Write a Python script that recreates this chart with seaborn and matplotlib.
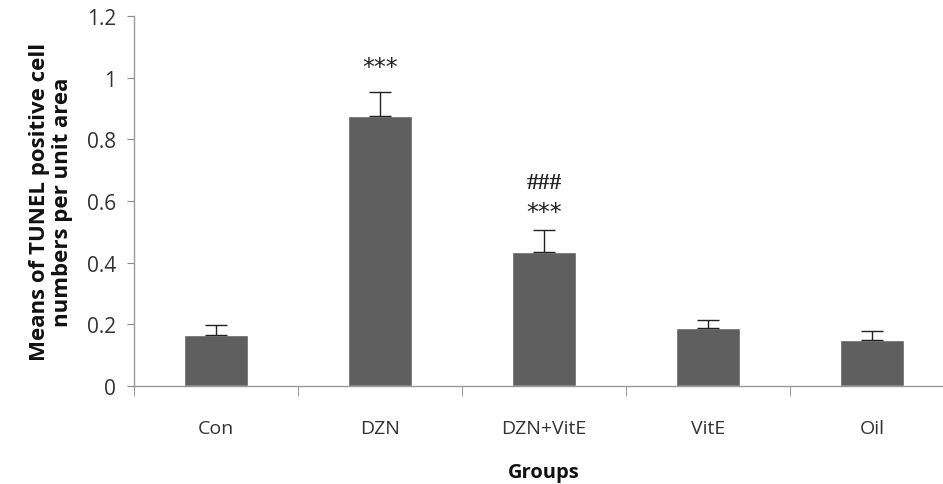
import matplotlib
matplotlib.use("Agg")
import matplotlib.pyplot as plt
import numpy as np
import pandas as pd
import seaborn as sns

groups = ["Con", "DZN", "DZN+VitE", "VitE", "Oil"]
means = [0.167, 0.877, 0.436, 0.187, 0.148]
errors = [0.030, 0.077, 0.071, 0.027, 0.029]
marks = ["", "***", "***", "", ""]
marks2 = ["", "", "###", "", ""]
yticks = [0, 0.2, 0.4, 0.6, 0.8, 1, 1.2]
ytick_labels = ["0", "0.2", "0.4", "0.6", "0.8", "1", "1.2"]

df = pd.DataFrame({"group": groups, "mean": means, "err": errors})

sns.set_style("white")
plt.rcParams["font.family"] = ["Open Sans", "DejaVu Sans"]

fig = plt.figure(figsize=(9.43, 4.85), dpi=100)
ax = fig.add_axes([0.142, 0.202, 0.870, 0.763])

sns.barplot(data=df, x="group", y="mean", color="#5f5f5f", saturation=1,
            width=0.39, errorbar=None, ax=ax)
ax.errorbar(np.arange(len(groups)), df["mean"], yerr=[np.zeros(len(groups)), df["err"]],
            fmt="none", ecolor="#222222", elinewidth=1, capsize=8, capthick=1)

# significance marks above the bars
for i in range(len(groups)):
    if marks[i]:
        y = 1.035 if i == 1 else 0.565
        ax.text(i, y, marks[i], ha="center", va="center", fontsize=17,
                family="DejaVu Sans", color="#222222")
    if marks2[i]:
        ax.text(i, 0.66, marks2[i], ha="center", va="center", fontsize=17,
                family="Liberation Serif", fontweight="bold", color="#222222")

ax.set_xlim(-0.5, 4.5)
ax.set_ylim(0, 1.2)
ax.set_yticks(yticks)
ax.set_yticklabels(ytick_labels)
ax.set_xticks(np.arange(len(groups)))
ax.set_xticklabels(groups)
ax.set_xticks(np.arange(-0.5, 5.0, 1.0), minor=True)
ax.tick_params(axis="x", which="major", length=0, pad=24, labelsize=14, labelcolor="#333333")
ax.tick_params(axis="x", which="minor", length=7, color="#888888", direction="out", bottom=True)
ax.tick_params(axis="y", length=5, color="#888888", direction="out", left=True, pad=8,
               labelsize=15, labelcolor="#333333")

for side in ["top", "right"]:
    ax.spines[side].set_visible(False)
for side in ["left", "bottom"]:
    ax.spines[side].set_color("#999999")
    ax.spines[side].set_linewidth(1)

ax.set_ylabel("Means of TUNEL positive cell\nnumbers per unit area", fontsize=16,
              fontweight="bold", color="#111111", labelpad=10, linespacing=1.1)
ax.set_xlabel("Groups", fontsize=14.5, fontweight="bold", color="#111111", labelpad=18)

fig.savefig("out.png", dpi=100)
